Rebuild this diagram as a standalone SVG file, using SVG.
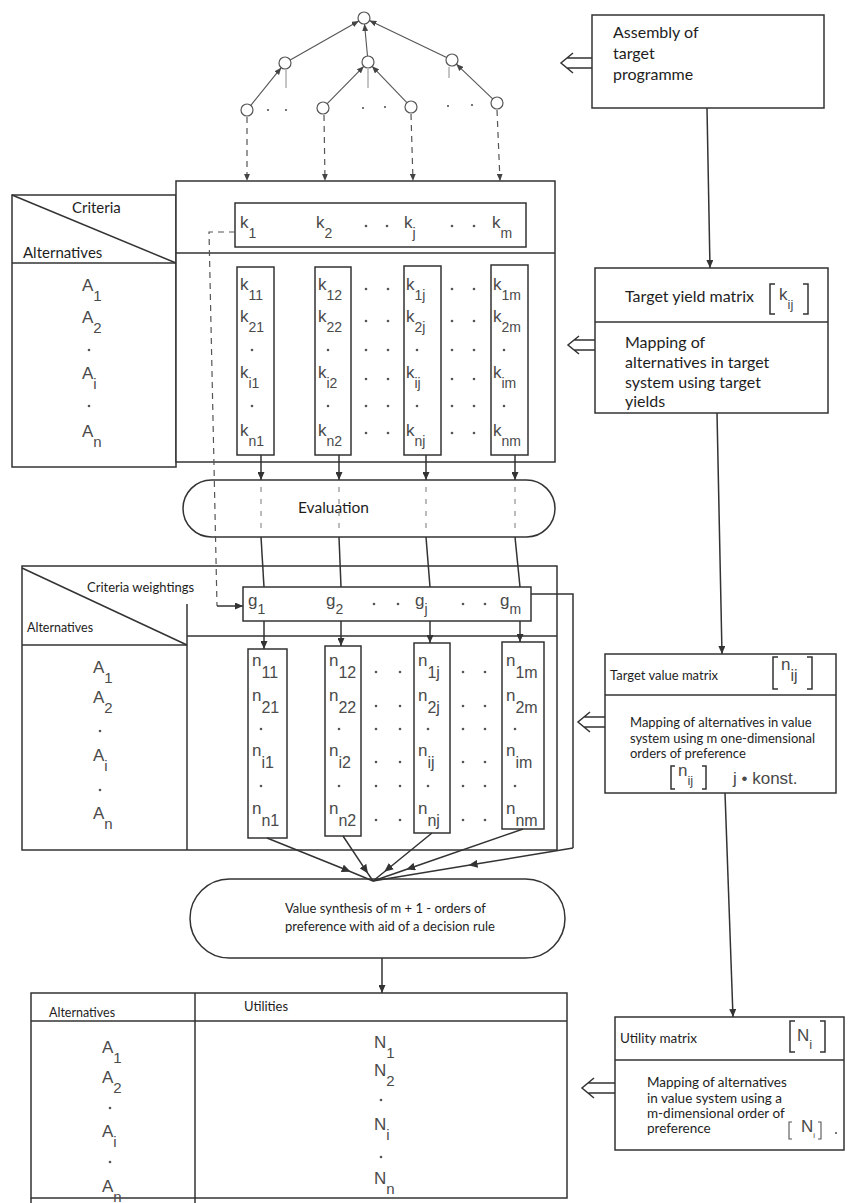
<svg xmlns="http://www.w3.org/2000/svg" width="848" height="1203" viewBox="0 0 848 1203">
<defs>
<style>
.ln{fill:none;stroke:#333;stroke-width:1.5}
.tl{fill:none;stroke:#555;stroke-width:1.1}
.fl{fill:none;stroke:#8a8a8a;stroke-width:1}
.dash{fill:none;stroke:#555;stroke-width:1.2;stroke-dasharray:6 5}
.fd{fill:none;stroke:#777;stroke-width:1;stroke-dasharray:5 7}
.box{fill:#fff;stroke:#333;stroke-width:1.5}
.nd{fill:#fff;stroke:#555;stroke-width:1.2}
.t{font-family:Lato,"Open Sans",sans-serif;fill:#1e1e1e}
.m{font-family:"Liberation Sans",Arial,sans-serif;fill:#4a4a4a;font-size:17px}
.s{font-size:14px}
.d{fill:#555}
</style>
<marker id="ar" viewBox="0 0 8 7" refX="8" refY="3.5" markerWidth="8" markerHeight="7" markerUnits="userSpaceOnUse" orient="auto"><path d="M0,0 L8,3.5 L0,7 z" fill="#333"/></marker>
<marker id="am" viewBox="0 0 8 7" refX="4" refY="3.5" markerWidth="9" markerHeight="8" markerUnits="userSpaceOnUse" orient="auto"><path d="M0,0 L8,3.5 L0,7 z" fill="#333"/></marker>
<marker id="at" viewBox="0 0 6 5" refX="6" refY="2.5" markerWidth="7" markerHeight="6" markerUnits="userSpaceOnUse" orient="auto"><path d="M0,0 L6,2.5 L0,5 z" fill="#444"/></marker>
</defs>
<rect width="848" height="1203" fill="#fff"/>

<!-- tree nodes -->
<g id="tree-top"><circle class="nd" cx="364" cy="18" r="6"/></g>
<g id="tree-mid-left"><circle class="nd" cx="285" cy="63" r="6"/></g>
<g id="tree-mid-center"><circle class="nd" cx="368" cy="62" r="6"/></g>
<g id="tree-mid-right"><circle class="nd" cx="452" cy="60" r="6"/></g>
<g id="tree-bottom-1"><circle class="nd" cx="247" cy="110" r="6"/></g>
<g id="tree-bottom-2"><circle class="nd" cx="323" cy="108" r="6"/></g>
<g id="tree-bottom-3"><circle class="nd" cx="411" cy="107" r="6"/></g>
<g id="tree-bottom-4"><circle class="nd" cx="497" cy="103" r="6"/></g>
<g id="tree-dots" class="d">
<circle cx="268" cy="110" r="1.1"/><circle cx="286" cy="110" r="1.1"/>
<circle cx="363" cy="108" r="1.1"/><circle cx="385" cy="107" r="1.1"/>
<circle cx="448" cy="106" r="1.1"/><circle cx="472" cy="105" r="1.1"/>
</g>

<!-- assembly box -->
<g id="assembly">
<rect class="box" x="592" y="15" width="232" height="93"/>
<text class="t" font-size="16" x="613" y="38">Assembly of</text>
<text class="t" font-size="16" x="613" y="59">target</text>
<text class="t" font-size="16" x="613" y="80">programme</text>
</g>

<!-- target yield matrix box -->
<g id="target-yield">
<rect class="box" x="595" y="268" width="233" height="145"/>
<line class="ln" x1="595" y1="322" x2="828" y2="322"/>
<text class="t" font-size="16" x="625" y="302">Target yield matrix</text>
<path class="ln" d="M775,284 h-5 v30 h5 M803,284 h5 v30 h-5"/>
<text class="m" x="779" y="300">k<tspan font-size="13" dy="9">ij</tspan></text>
<text class="t" font-size="16" x="625" y="348">Mapping of</text>
<text class="t" font-size="16" x="625" y="368">alternatives in target</text>
<text class="t" font-size="16" x="625" y="388">system using target</text>
<text class="t" font-size="16" x="625" y="407">yields</text>
</g>

<!-- target value matrix box -->
<g id="target-value">
<rect class="box" x="605" y="654" width="231" height="139"/>
<line class="ln" x1="605" y1="695" x2="836" y2="695"/>
<text class="t" font-size="13" x="610" y="680">Target value matrix</text>
<path class="ln" d="M778,657 h-5 v32 h5 M807,657 h5 v32 h-5"/>
<text class="m" x="781" y="670" font-size="13">n<tspan dy="11" font-size="16">ij</tspan></text>
<text class="t" font-size="13" x="630" y="727">Mapping of alternatives in value</text>
<text class="t" font-size="13" x="630" y="743">system using m one-dimensional</text>
<text class="t" font-size="13" x="630" y="758">orders of preference</text>
<path class="ln" d="M675,766 h-4 v23 h4 M702,766 h4 v23 h-4"/>
<text class="m" x="678" y="776" font-size="11">n<tspan dy="9" font-size="13">ij</tspan></text>
<text class="m" x="733" y="784" font-size="10">j • konst.</text>
</g>

<!-- utility matrix box -->
<g id="utility-matrix">
<rect class="box" x="615" y="1017" width="229" height="133"/>
<line class="ln" x1="615" y1="1060" x2="844" y2="1060"/>
<text class="t" font-size="13.5" x="620" y="1043">Utility matrix</text>
<path class="ln" d="M795,1021 h-5 v31 h5 M820,1021 h5 v31 h-5"/>
<text class="m" x="797" y="1041" font-size="18">N<tspan font-size="13" dy="8">i</tspan></text>
<text class="t" font-size="13.5" x="647" y="1087">Mapping of alternatives</text>
<text class="t" font-size="13.5" x="647" y="1103">in value system using a</text>
<text class="t" font-size="13.5" x="647" y="1118">m-dimensional order of</text>
<text class="t" font-size="13.5" x="647" y="1133">preference</text>
<path class="tl" d="M792,1122 h-3 v17 h3 M818,1122 h3 v17 h-3"/>
<text class="m" x="801" y="1132" font-size="10">N<tspan dy="6" font-size="8">i</tspan></text>
<circle class="d" cx="836" cy="1133" r="1.1"/>
</g>

<!-- criteria table (target yields) -->
<g id="criteria-table">
<rect class="box" x="12" y="195" width="164" height="272"/>
<rect class="box" x="176" y="181" width="379" height="281"/>
<line class="ln" x1="12" y1="195" x2="176" y2="263"/>
<line class="ln" x1="12" y1="263" x2="176" y2="263"/>
<line class="ln" x1="176" y1="253" x2="555" y2="253"/>
<text class="t" font-size="15" x="72" y="213">Criteria</text>
<text class="t" font-size="15" x="23" y="258">Alternatives</text>
<rect class="box" x="235" y="203" width="291" height="44"/>
<text class="m" x="240" y="228">k<tspan class="s" dy="10">1</tspan></text>
<text class="m" x="316" y="228">k<tspan class="s" dy="10">2</tspan></text>
<text class="m" x="404" y="228">k<tspan class="s" dy="10">j</tspan></text>
<text class="m" x="492" y="228">k<tspan class="s" dy="10">m</tspan></text>
<g class="d"><circle cx="366" cy="226" r="1.3"/><circle cx="387" cy="226" r="1.3"/><circle cx="452" cy="226" r="1.3"/><circle cx="474" cy="226" r="1.3"/></g>
<!-- row labels -->
<text class="m" x="82" y="291" font-size="18">A<tspan font-size="15" dy="10">1</tspan></text>
<text class="m" x="82" y="323" font-size="18">A<tspan font-size="15" dy="10">2</tspan></text>
<text class="m" x="82" y="379" font-size="18">A<tspan font-size="15" dy="10">i</tspan></text>
<text class="m" x="82" y="437" font-size="18">A<tspan font-size="15" dy="10">n</tspan></text>
<g class="d"><circle cx="89" cy="350" r="1.3"/><circle cx="89" cy="406" r="1.3"/></g>
<!-- columns -->
<rect class="box" x="237" y="267" width="37" height="188"/>
<rect class="box" x="315" y="267" width="36" height="188"/>
<rect class="box" x="404" y="266" width="37" height="189"/>
<rect class="box" x="491" y="265" width="37" height="190"/>
<text class="m" x="240" y="290">k<tspan class="s" dy="10">11</tspan></text>
<text class="m" x="240" y="322">k<tspan class="s" dy="10">21</tspan></text>
<text class="m" x="240" y="378">k<tspan class="s" dy="10">i1</tspan></text>
<text class="m" x="240" y="436">k<tspan class="s" dy="10">n1</tspan></text>
<text class="m" x="318" y="290">k<tspan class="s" dy="10">12</tspan></text>
<text class="m" x="318" y="322">k<tspan class="s" dy="10">22</tspan></text>
<text class="m" x="318" y="378">k<tspan class="s" dy="10">i2</tspan></text>
<text class="m" x="318" y="436">k<tspan class="s" dy="10">n2</tspan></text>
<text class="m" x="406" y="290">k<tspan class="s" dy="10">1j</tspan></text>
<text class="m" x="406" y="322">k<tspan class="s" dy="10">2j</tspan></text>
<text class="m" x="406" y="378">k<tspan class="s" dy="10">ij</tspan></text>
<text class="m" x="406" y="436">k<tspan class="s" dy="10">nj</tspan></text>
<text class="m" x="493" y="290">k<tspan class="s" dy="10">1m</tspan></text>
<text class="m" x="493" y="322">k<tspan class="s" dy="10">2m</tspan></text>
<text class="m" x="493" y="378">k<tspan class="s" dy="10">im</tspan></text>
<text class="m" x="493" y="436">k<tspan class="s" dy="10">nm</tspan></text>
<g class="d">
<circle cx="252" cy="350" r="1.3"/><circle cx="252" cy="406" r="1.3"/>
<circle cx="328" cy="350" r="1.3"/><circle cx="328" cy="406" r="1.3"/>
<circle cx="417" cy="350" r="1.3"/><circle cx="417" cy="406" r="1.3"/>
<circle cx="504" cy="350" r="1.3"/><circle cx="504" cy="406" r="1.3"/>
<circle cx="366" cy="289" r="1.3"/><circle cx="388" cy="289" r="1.3"/><circle cx="452" cy="289" r="1.3"/><circle cx="474" cy="289" r="1.3"/>
<circle cx="366" cy="321" r="1.3"/><circle cx="388" cy="321" r="1.3"/><circle cx="452" cy="321" r="1.3"/><circle cx="474" cy="321" r="1.3"/>
<circle cx="366" cy="350" r="1.3"/><circle cx="388" cy="350" r="1.3"/><circle cx="452" cy="350" r="1.3"/><circle cx="474" cy="350" r="1.3"/>
<circle cx="366" cy="379" r="1.3"/><circle cx="388" cy="379" r="1.3"/><circle cx="452" cy="379" r="1.3"/><circle cx="474" cy="379" r="1.3"/>
<circle cx="366" cy="406" r="1.3"/><circle cx="388" cy="406" r="1.3"/><circle cx="452" cy="406" r="1.3"/><circle cx="474" cy="406" r="1.3"/>
<circle cx="366" cy="433" r="1.3"/><circle cx="388" cy="433" r="1.3"/><circle cx="452" cy="433" r="1.3"/><circle cx="474" cy="433" r="1.3"/>
</g>
</g>

<!-- evaluation -->
<g id="evaluation">
<rect class="box" x="183" y="480" width="372" height="57" rx="28.5"/>
<text class="t" font-size="15.5" x="298" y="513">Evaluation</text>
</g>

<!-- weighting table (target values) -->
<g id="weighting-table">
<rect class="box" x="22" y="566" width="535" height="284"/>
<line class="ln" x1="187" y1="604" x2="187" y2="850"/>
<line class="ln" x1="22" y1="568" x2="187" y2="645"/>
<line class="ln" x1="22" y1="645" x2="187" y2="645"/>
<line class="ln" x1="187" y1="636" x2="557" y2="636"/>
<text class="t" font-size="13" x="87" y="592">Criteria weightings</text>
<text class="t" font-size="12.5" x="27" y="632">Alternatives</text>
<rect class="box" x="243" y="587" width="288" height="34"/>
<text class="m" x="248" y="606">g<tspan class="s" dy="8">1</tspan></text>
<text class="m" x="326" y="606">g<tspan class="s" dy="8">2</tspan></text>
<text class="m" x="415" y="606">g<tspan class="s" dy="8">j</tspan></text>
<text class="m" x="500" y="606">g<tspan class="s" dy="8">m</tspan></text>
<g class="d"><circle cx="374" cy="604" r="1.3"/><circle cx="398" cy="604" r="1.3"/><circle cx="463" cy="604" r="1.3"/><circle cx="485" cy="604" r="1.3"/></g>
<text class="m" x="93" y="673" font-size="18">A<tspan font-size="15" dy="10">1</tspan></text>
<text class="m" x="93" y="703" font-size="18">A<tspan font-size="15" dy="10">2</tspan></text>
<text class="m" x="93" y="761" font-size="18">A<tspan font-size="15" dy="10">i</tspan></text>
<text class="m" x="93" y="819" font-size="18">A<tspan font-size="15" dy="10">n</tspan></text>
<g class="d"><circle cx="100" cy="731" r="1.3"/><circle cx="100" cy="790" r="1.3"/></g>
<rect class="box" x="248" y="649" width="39" height="189"/>
<rect class="box" x="325" y="646" width="36" height="190"/>
<rect class="box" x="414" y="643" width="36" height="190"/>
<rect class="box" x="502" y="642" width="42" height="187"/>
<g class="m" font-size="13">
<text x="252" y="666">n<tspan dy="12" font-size="16">11</tspan></text>
<text x="252" y="701">n<tspan dy="12" font-size="16">21</tspan></text>
<text x="252" y="756">n<tspan dy="12" font-size="16">i1</tspan></text>
<text x="252" y="814">n<tspan dy="12" font-size="16">n1</tspan></text>
<text x="329" y="666">n<tspan dy="12" font-size="16">12</tspan></text>
<text x="329" y="701">n<tspan dy="12" font-size="16">22</tspan></text>
<text x="329" y="756">n<tspan dy="12" font-size="16">i2</tspan></text>
<text x="329" y="814">n<tspan dy="12" font-size="16">n2</tspan></text>
<text x="418" y="666">n<tspan dy="12" font-size="16">1j</tspan></text>
<text x="418" y="701">n<tspan dy="12" font-size="16">2j</tspan></text>
<text x="418" y="756">n<tspan dy="12" font-size="16">ij</tspan></text>
<text x="418" y="814">n<tspan dy="12" font-size="16">nj</tspan></text>
<text x="506" y="666">n<tspan dy="12" font-size="16">1m</tspan></text>
<text x="506" y="701">n<tspan dy="12" font-size="16">2m</tspan></text>
<text x="506" y="756">n<tspan dy="12" font-size="16">im</tspan></text>
<text x="506" y="814">n<tspan dy="12" font-size="16">nm</tspan></text>
</g>
<g class="d">
<circle cx="261" cy="729" r="1.3"/><circle cx="261" cy="786" r="1.3"/>
<circle cx="339" cy="729" r="1.3"/><circle cx="339" cy="786" r="1.3"/>
<circle cx="428" cy="729" r="1.3"/><circle cx="428" cy="786" r="1.3"/>
<circle cx="515" cy="729" r="1.3"/><circle cx="515" cy="786" r="1.3"/>
<circle cx="376" cy="672" r="1.3"/><circle cx="400" cy="672" r="1.3"/><circle cx="463" cy="672" r="1.3"/><circle cx="485" cy="672" r="1.3"/>
<circle cx="376" cy="706" r="1.3"/><circle cx="400" cy="706" r="1.3"/><circle cx="463" cy="706" r="1.3"/><circle cx="485" cy="706" r="1.3"/>
<circle cx="376" cy="729" r="1.3"/><circle cx="400" cy="729" r="1.3"/><circle cx="463" cy="729" r="1.3"/><circle cx="485" cy="729" r="1.3"/>
<circle cx="376" cy="762" r="1.3"/><circle cx="400" cy="762" r="1.3"/><circle cx="463" cy="762" r="1.3"/><circle cx="485" cy="762" r="1.3"/>
<circle cx="376" cy="786" r="1.3"/><circle cx="400" cy="786" r="1.3"/><circle cx="463" cy="786" r="1.3"/><circle cx="485" cy="786" r="1.3"/>
<circle cx="376" cy="820" r="1.3"/><circle cx="400" cy="820" r="1.3"/><circle cx="463" cy="820" r="1.3"/><circle cx="485" cy="820" r="1.3"/>
</g>
</g>

<!-- value synthesis -->
<g id="value-synthesis">
<rect class="box" x="190" y="879" width="375" height="79" rx="39.5"/>
<text class="t" font-size="13" x="285" y="913">Value synthesis of m + 1 - orders of</text>
<text class="t" font-size="13" x="285" y="931">preference with aid of a decision rule</text>
</g>

<!-- utilities table -->
<g id="utilities-table">
<rect class="box" x="31" y="993" width="536" height="205"/>
<line class="ln" x1="31" y1="1198" x2="31" y2="1203"/>
<line class="ln" x1="195" y1="993" x2="195" y2="1203"/>
<line class="ln" x1="31" y1="1021" x2="567" y2="1021"/>
<text class="t" font-size="12.5" x="49" y="1017">Alternatives</text>
<text class="t" font-size="13" x="244" y="1011">Utilities</text>
<text class="m" x="102" y="1053" font-size="18">A<tspan font-size="15" dy="10">1</tspan></text>
<text class="m" x="102" y="1083" font-size="18">A<tspan font-size="15" dy="10">2</tspan></text>
<text class="m" x="102" y="1137" font-size="18">A<tspan font-size="15" dy="10">i</tspan></text>
<text class="m" x="102" y="1192" font-size="18">A<tspan font-size="15" dy="10">n</tspan></text>
<g class="d"><circle cx="110" cy="1108" r="1.3"/><circle cx="110" cy="1162" r="1.3"/></g>
<text class="m" x="374" y="1048" font-size="18">N<tspan font-size="15" dy="10">1</tspan></text>
<text class="m" x="374" y="1076" font-size="18">N<tspan font-size="15" dy="10">2</tspan></text>
<text class="m" x="374" y="1130" font-size="18">N<tspan font-size="15" dy="10">i</tspan></text>
<text class="m" x="374" y="1184" font-size="18">N<tspan font-size="15" dy="10">n</tspan></text>
<g class="d"><circle cx="381" cy="1100" r="1.3"/><circle cx="381" cy="1157" r="1.3"/></g>
</g>

<!-- connectors -->
<g id="connectors">
<line class="tl" x1="290.2" y1="60" x2="358.8" y2="21" marker-end="url(#at)"/>
<line class="tl" x1="367.5" y1="56" x2="364.5" y2="24" marker-end="url(#at)"/>
<line class="tl" x1="446.6" y1="57.4" x2="369.4" y2="20.6" marker-end="url(#at)"/>
<line class="tl" x1="250.8" y1="105.3" x2="281.2" y2="67.7" marker-end="url(#at)"/>
<line class="tl" x1="327.2" y1="103.7" x2="363.8" y2="66.3" marker-end="url(#at)"/>
<line class="tl" x1="406.9" y1="102.7" x2="372.1" y2="66.3" marker-end="url(#at)"/>
<line class="tl" x1="492.7" y1="98.9" x2="456.3" y2="64.1" marker-end="url(#at)"/>
<line class="fl" x1="286" y1="70" x2="286" y2="88"/>
<line class="fl" x1="368" y1="69" x2="368" y2="88"/>
<line class="fl" x1="449" y1="67" x2="449" y2="78"/>
<line class="dash" x1="247" y1="117" x2="247" y2="181" marker-end="url(#at)"/>
<line class="dash" x1="324" y1="115" x2="325" y2="181" marker-end="url(#at)"/>
<line class="dash" x1="411" y1="114" x2="413" y2="181" marker-end="url(#at)"/>
<line class="dash" x1="497" y1="110" x2="500" y2="181" marker-end="url(#at)"/>
<line class="ln" x1="707" y1="108" x2="710" y2="268" marker-end="url(#ar)"/>
<line class="ln" x1="717" y1="413" x2="722" y2="654" marker-end="url(#ar)"/>
<line class="ln" x1="725" y1="793" x2="733" y2="1017" marker-end="url(#ar)"/>
<path class="ln" d="M592,58 H567 M592,68 H567 M573,53 L561,63 L573,73"/>
<path class="ln" d="M595,340 H574 M595,350 H574 M579,336 L568,345 L579,354"/>
<path class="ln" d="M605,717 H584 M605,727 H584 M590,712 L578,722 L590,732"/>
<path class="ln" d="M615,1083 H588 M615,1093 H588 M594,1078 L582,1088 L594,1098"/>
<line class="ln" x1="261" y1="455" x2="261" y2="480" marker-end="url(#ar)"/>
<line class="ln" x1="339" y1="455" x2="339" y2="480" marker-end="url(#ar)"/>
<line class="ln" x1="426" y1="455" x2="426" y2="480" marker-end="url(#ar)"/>
<line class="ln" x1="515" y1="455" x2="515" y2="480" marker-end="url(#ar)"/>
<g class="fd">
<line x1="261" y1="487" x2="261" y2="532"/>
<line x1="339" y1="487" x2="339" y2="532"/>
<line x1="426" y1="487" x2="426" y2="532"/>
<line x1="515" y1="487" x2="515" y2="532"/>
</g>
<line class="ln" x1="261" y1="537" x2="264" y2="587"/>
<line class="ln" x1="339" y1="537" x2="341" y2="587"/>
<line class="ln" x1="426" y1="537" x2="430" y2="587"/>
<line class="ln" x1="515" y1="537" x2="520" y2="587"/>
<path class="dash" d="M235,232 H209 L217,606"/>
<line class="ln" x1="217" y1="606" x2="243" y2="606" marker-end="url(#ar)"/>
<line class="ln" x1="264" y1="621" x2="264" y2="649" marker-end="url(#ar)"/>
<line class="ln" x1="341" y1="621" x2="341" y2="646" marker-end="url(#ar)"/>
<line class="ln" x1="430" y1="621" x2="430" y2="643" marker-end="url(#ar)"/>
<line class="ln" x1="520" y1="621" x2="520" y2="642" marker-end="url(#ar)"/>
<path class="ln" d="M531,594 H573 V848"/>
<polyline class="ln" points="573,848 473,864.5 373,881" marker-mid="url(#am)"/>
<polyline class="ln" points="267,838 346.5,870 373,881" marker-mid="url(#am)"/>
<polyline class="ln" points="343,836 365.5,869.8 373,881" marker-mid="url(#am)"/>
<polyline class="ln" points="432,833 387.8,869 373,881" marker-mid="url(#am)"/>
<polyline class="ln" points="523,829 410.5,868 373,881" marker-mid="url(#am)"/>
<line class="ln" x1="382" y1="958" x2="382" y2="993" marker-end="url(#ar)"/>
</g>
</svg>
